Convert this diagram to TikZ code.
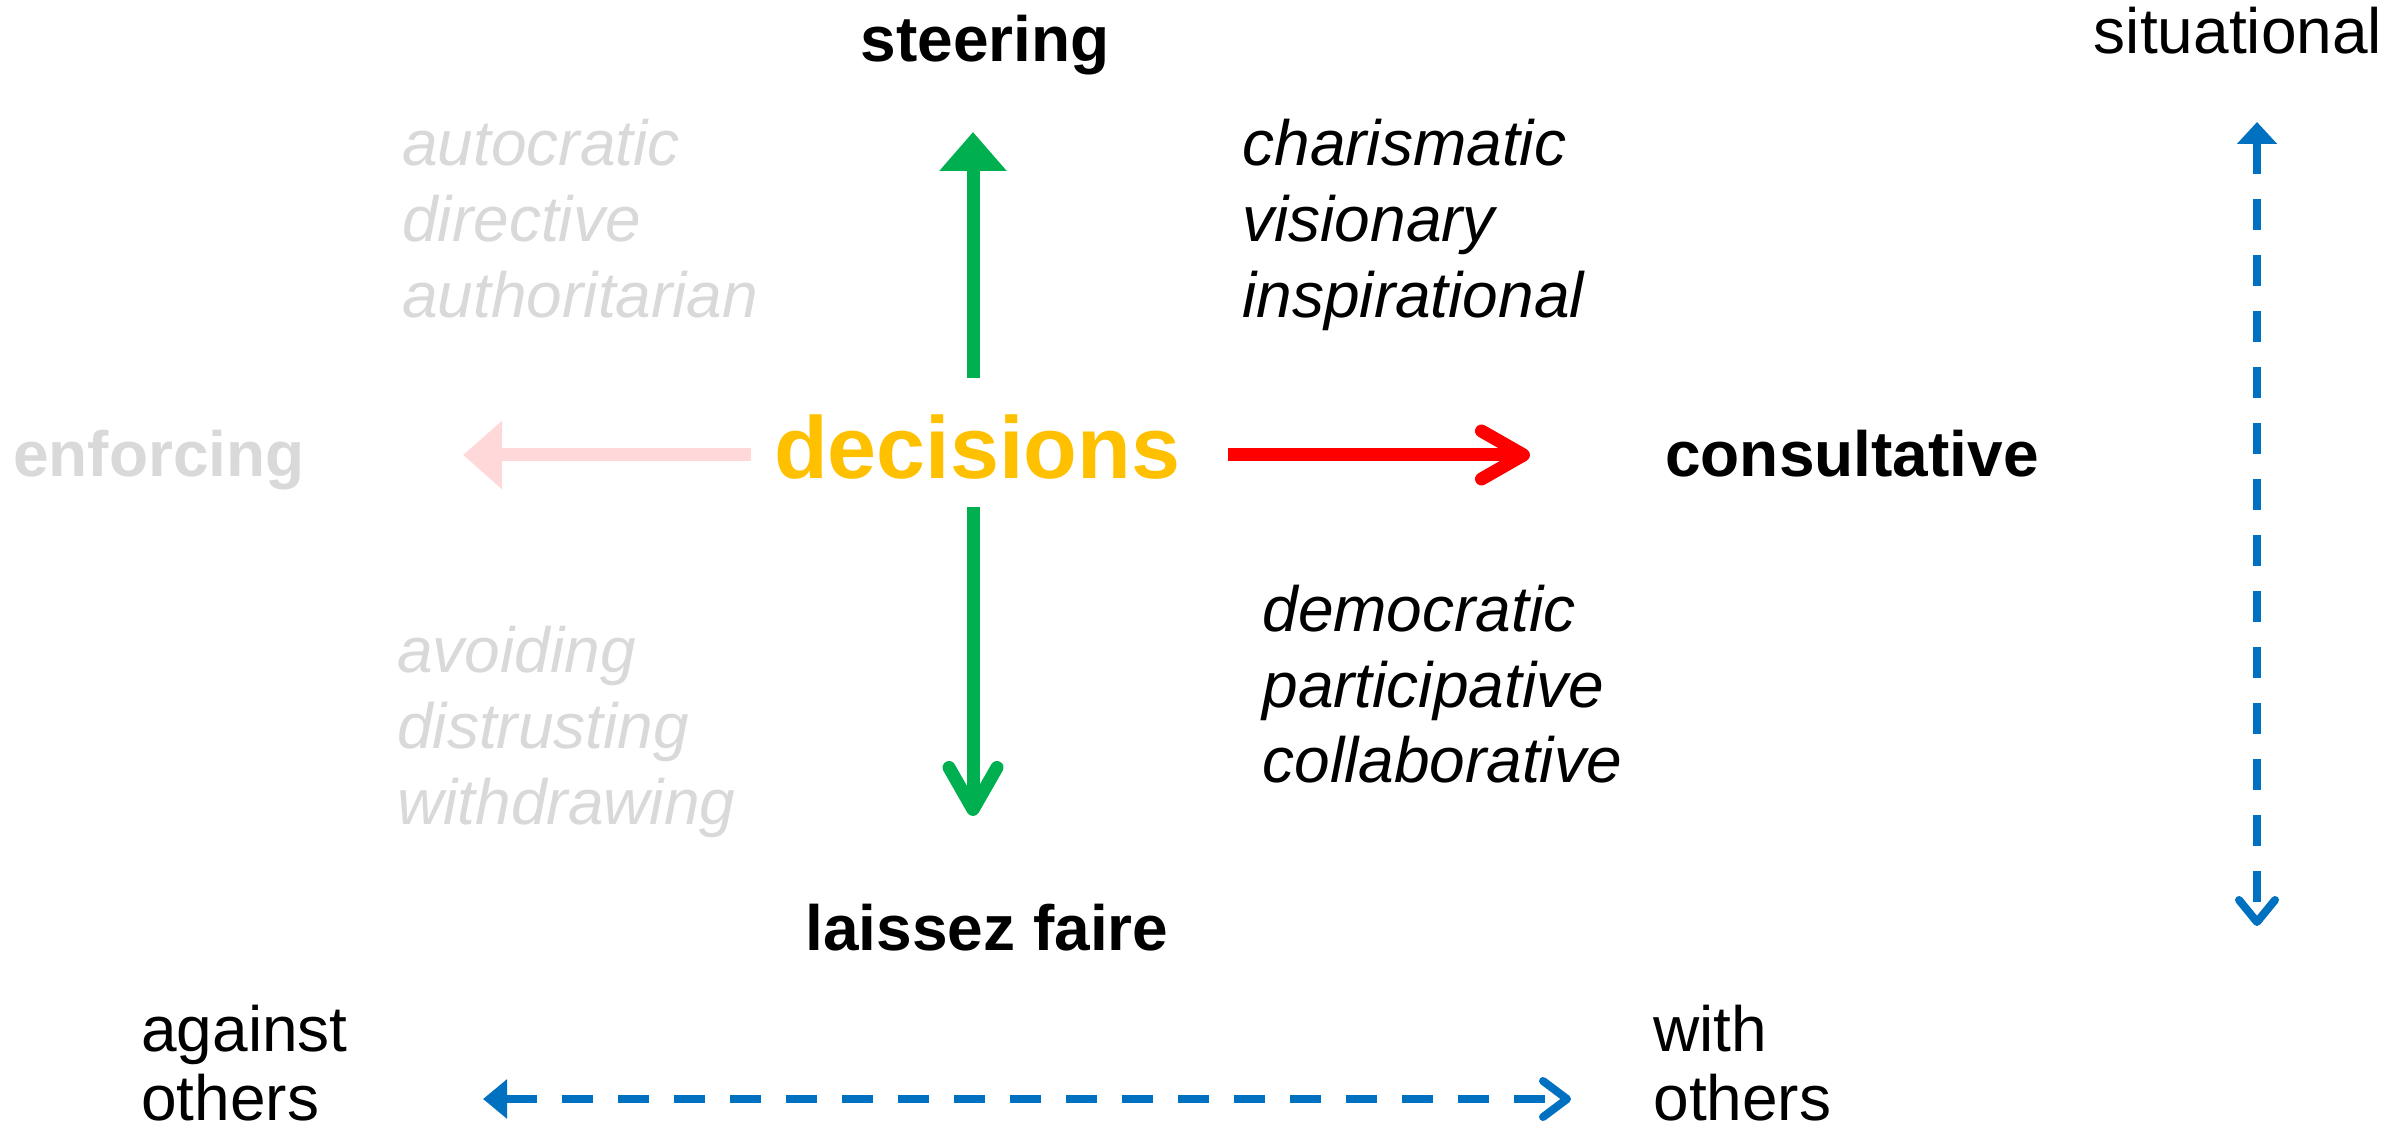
\documentclass[tikz,border=0pt]{standalone}
\usepackage{fontspec}
\setmainfont{Liberation Sans}
\usetikzlibrary{arrows.meta}
\definecolor{cgreen}{HTML}{00B050}
\definecolor{cred}{HTML}{FF0000}
\definecolor{corange}{HTML}{FFC000}
\definecolor{cblue}{HTML}{0070C0}
\definecolor{cgray}{HTML}{D9D9D9}
\definecolor{cpink}{HTML}{FFD9D9}
\begin{document}
\begin{tikzpicture}[x=0.5pt,y=-0.5pt,
  bl/.style={inner sep=0pt, anchor=base, font=\fontsize{32}{38}\selectfont\bfseries},
  it/.style={inner sep=0pt, anchor=base west, font=\fontsize{32}{38}\selectfont\itshape},
  rg/.style={inner sep=0pt, font=\fontsize{32}{38}\selectfont},
  thick arrow/.style={line width=6.5pt},
  fillhead/.style={-{Triangle[length=19.5pt,width=32.5pt]}},
  barbhead/.style={-{Straight Barb[length=21pt,width=24pt,round]}},
  dasharrow/.style={line width=4pt, cblue, dash pattern=on 15.5pt off 12.5pt},
]
\useasboundingbox (0,0) rectangle (2402,1133);

% labels
\node[bl] (steer) at (985,62) {steering};
\node[bl, font=\fontsize{44}{50}\selectfont\bfseries, text=corange] (dec) at (977,479) {decisions};
\node[bl] (cons) at (1852,477) {consultative};
\node[bl, text=cgray] (enf) at (159,477) {enforcing};
\node[bl] (lf) at (987,950) {laissez faire};
\node[rg, anchor=base] (sit) at (2238,54) {situational};
\node[rg, anchor=base west] (ag1) at (141,1051) {against};
\node[rg, anchor=base west] (ag2) at (141,1120) {others};
\node[rg, anchor=base west] (wi1) at (1653,1051) {with};
\node[rg, anchor=base west] (wi2) at (1653,1120) {others};

% italic lists
\node[it, text=cgray] (l1) at (402,166) {autocratic};
\node[it, text=cgray] (l2) at (402,242) {directive};
\node[it, text=cgray] (l3) at (402,318) {authoritarian};
\node[it] (c1) at (1242,166) {charismatic};
\node[it] (c2) at (1242,242) {visionary};
\node[it] (c3) at (1242,318) {inspirational};
\node[it] (d1) at (1262,631) {democratic};
\node[it] (d2) at (1262,707) {participative};
\node[it] (d3) at (1262,782) {collaborative};
\node[it, text=cgray] (v1) at (397,672) {avoiding};
\node[it, text=cgray] (v2) at (397,748) {distrusting};
\node[it, text=cgray] (v3) at (397,824) {withdrawing};

% arrow end points
\coordinate (gu0) at (973,378);
\coordinate (gu1) at (973,132);
\coordinate (gd0) at (973,507);
\coordinate (gd1) at (973,816);
\coordinate (r0) at (1228,455);
\coordinate (r1) at (1530,455);
\coordinate (p0) at (751,455);
\coordinate (p1) at (463,455);
\coordinate (bv0) at (2257,122);
\coordinate (bv1) at (2257,926);
\coordinate (bh0) at (483,1099);
\coordinate (bh1) at (1571,1099);

% arrows
\draw[thick arrow, cgreen, fillhead] (gu0) -- (gu1);
\draw[thick arrow, cgreen, barbhead] (gd0) -- (gd1);
\draw[thick arrow, cred, barbhead] (r0) -- (r1);
\draw[thick arrow, cpink, -{Triangle[length=19.5pt,width=33pt]}] (p0) -- (p1);
\draw[dasharrow, {Triangle[length=11pt,width=19.5pt,sep=0pt]}-{Straight Barb[length=11pt,width=18pt,round]}] (bv0) -- (bv1);
\draw[dasharrow, {Triangle[length=12pt,width=19pt]}-{Straight Barb[length=12pt,width=18pt,round]}] (bh0) -- (bh1);
\end{tikzpicture}
\end{document}
